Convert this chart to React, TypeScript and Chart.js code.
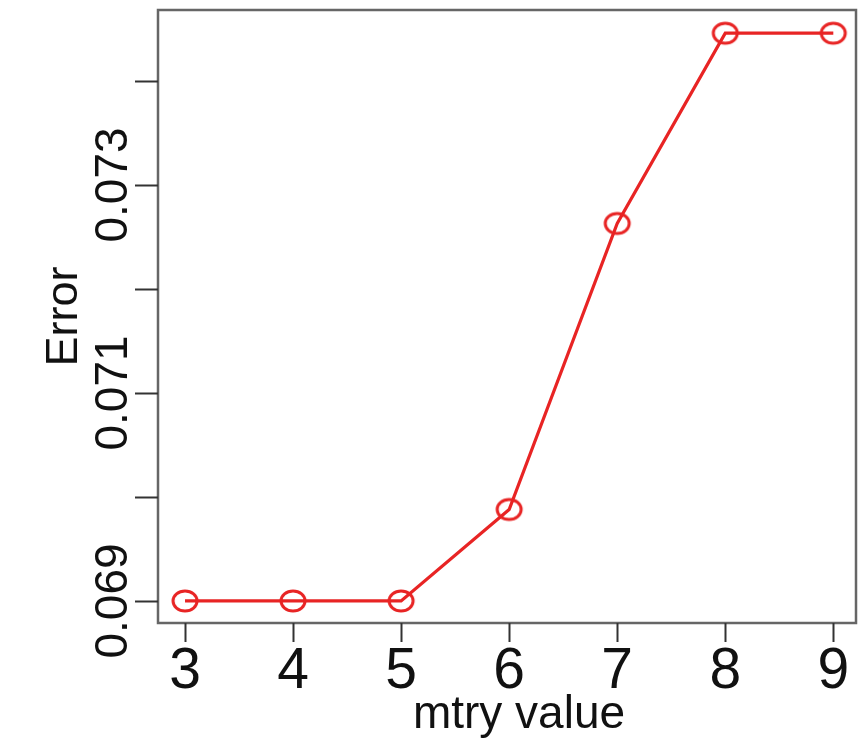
import React, { useEffect, useRef } from "react";
import { Chart, registerables } from "chart.js";

Chart.register(...registerables);

const mtryValues = [3, 4, 5, 6, 7, 8, 9];
const errorValues = [0.069, 0.069, 0.069, 0.06988, 0.07263, 0.07446, 0.07446];
const yTickValues = [0.069, 0.07, 0.071, 0.072, 0.073, 0.074];
const yTickLabels = ["0.069", "", "0.071", "", "0.073", ""];
const xTickValues = [3, 4, 5, 6, 7, 8, 9];
const xTickLabels = ["3", "4", "5", "6", "7", "8", "9"];
const xTitle = "mtry value";
const yTitle = "Error";

const RED = "rgb(232,36,36)";

function makeMarker(): HTMLCanvasElement {
  const c = document.createElement("canvas");
  c.width = 32;
  c.height = 28;
  const g = c.getContext("2d")!;
  g.strokeStyle = RED;
  g.lineWidth = 3;
  g.beginPath();
  g.ellipse(16, 14, 12, 10, 0, 0, Math.PI * 2);
  g.stroke();
  return c;
}

const rPlotPlugin = {
  id: "rPlot",
  afterDraw(chart: any) {
    const ctx = chart.ctx as CanvasRenderingContext2D;
    const xs = chart.scales.x;
    const ys = chart.scales.y;
    const a = chart.chartArea;
    ctx.save();
    // box
    ctx.strokeStyle = "#666";
    ctx.lineWidth = 2.5;
    ctx.strokeRect(a.left, a.top, a.right - a.left, a.bottom - a.top);

    // y ticks
    ctx.strokeStyle = "#333";
    ctx.lineWidth = 2;
    yTickValues.forEach((v) => {
      const py = Math.round(ys.getPixelForValue(v)) + 0.5;
      ctx.beginPath();
      ctx.moveTo(a.left, py);
      ctx.lineTo(a.left - 23, py);
      ctx.stroke();
    });
    // x ticks
    xTickValues.forEach((v) => {
      const px = Math.round(xs.getPixelForValue(v)) + 0.5;
      ctx.beginPath();
      ctx.moveTo(px, a.bottom);
      ctx.lineTo(px, a.bottom + 19);
      ctx.stroke();
    });

    ctx.fillStyle = "#111";
    // y tick labels (rotated)
    ctx.font = '46px "Liberation Sans", Arial, sans-serif';
    ctx.textAlign = "center";
    ctx.textBaseline = "alphabetic";
    yTickValues.forEach((v, i) => {
      const lab = yTickLabels[i];
      if (!lab) return;
      const py = ys.getPixelForValue(v);
      ctx.save();
      ctx.translate(127, py);
      ctx.rotate(-Math.PI / 2);
      ctx.fillText(lab, 0, 0);
      ctx.restore();
    });
    // y title
    ctx.save();
    ctx.font = '45px "Liberation Sans", Arial, sans-serif';
    ctx.translate(77, (a.top + a.bottom) / 2);
    ctx.rotate(-Math.PI / 2);
    ctx.fillText(yTitle, 0, 0);
    ctx.restore();

    // x tick labels
    ctx.font = '57px "Liberation Sans", Arial, sans-serif';
    xTickValues.forEach((v, i) => {
      const px = xs.getPixelForValue(v);
      ctx.fillText(xTickLabels[i], px, 688);
    });
    // x title
    ctx.font = '46px "Liberation Sans", Arial, sans-serif';
    ctx.fillText(xTitle, 519, 728);
    ctx.restore();
  },
};

export default function App() {
  const ref = useRef<HTMLCanvasElement | null>(null);
  useEffect(() => {
    if (!ref.current) return;
    const marker = makeMarker();
    const chart = new Chart(ref.current, {
      type: "line",
      data: {
        datasets: [
          {
            data: mtryValues.map((x, i) => ({ x, y: errorValues[i] })),
            borderColor: RED,
            borderWidth: 3.2,
            pointStyle: marker as any,
            pointRadius: 12,
            tension: 0,
            fill: false,
            clip: false as any,
          },
        ],
      },
      options: {
        responsive: false,
        devicePixelRatio: 1,
        animation: false,
        layout: { autoPadding: false, padding: { top: 10, right: 4, left: 0, bottom: 0 } },
        plugins: { legend: { display: false }, tooltip: { enabled: false }, title: { display: false } },
        scales: {
          x: {
            type: "linear",
            min: 2.75,
            max: 9.21,
            grid: { display: false },
            border: { display: false },
            ticks: { display: false },
            afterFit: (s: any) => {
              s.height = 128;
            },
          },
          y: {
            type: "linear",
            min: 0.068788,
            max: 0.074683,
            grid: { display: false },
            border: { display: false },
            ticks: { display: false },
            afterFit: (s: any) => {
              s.width = 158;
            },
          },
        },
      },
      plugins: [rPlotPlugin],
    });
    return () => chart.destroy();
  }, []);
  return (
    <div style={{ position: "fixed", left: 0, top: 0, width: 860, height: 751, background: "#fff" }}>
      <canvas ref={ref} width={860} height={751} style={{ width: 860, height: 751 }} />
    </div>
  );
}
